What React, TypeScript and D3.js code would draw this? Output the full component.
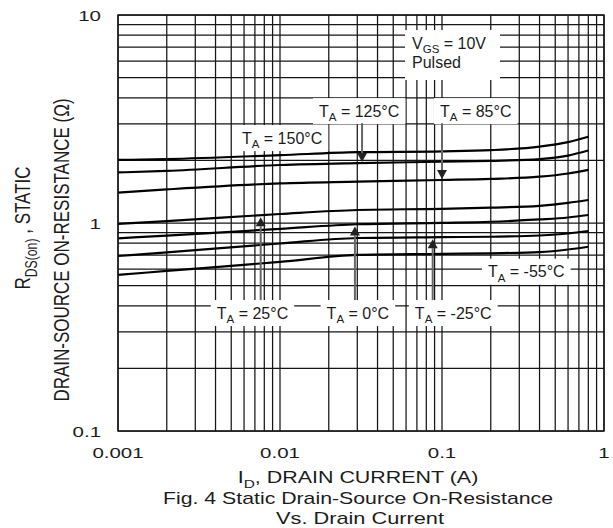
import React, { useEffect, useRef } from 'react';
import * as d3 from 'd3';

// drain current (A), shared by every curve
const currents = [0.001, 0.002, 0.01, 0.03, 0.1, 0.2, 0.4, 0.6, 0.8];

// Rds(on) in ohms, one list per ambient temperature
const r150 = [2.01, 2.03, 2.12, 2.19, 2.21, 2.24, 2.33, 2.45, 2.6];
const r125 = [1.75, 1.78, 1.9, 1.94, 1.97, 1.99, 2.03, 2.11, 2.23];
const r85 = [1.4, 1.45, 1.55, 1.58, 1.61, 1.63, 1.67, 1.73, 1.8];
const r25 = [0.99, 1.02, 1.105, 1.155, 1.17, 1.185, 1.21, 1.25, 1.29];
const r0 = [0.844, 0.87, 0.937, 0.986, 1.002, 1.014, 1.04, 1.063, 1.093];
const rMinus25 = [0.694, 0.723, 0.797, 0.847, 0.855, 0.859, 0.871, 0.89, 0.915];
const rMinus55 = [0.563, 0.588, 0.65, 0.702, 0.71, 0.715, 0.725, 0.746, 0.769];

const temps = ['150', '125', '85', '25', '0', '-25', '-55'];
const series = [r150, r125, r85, r25, r0, rMinus25, rMinus55];

const xTicks = [0.001, 0.01, 0.1, 1];
const xTickLabels = ['0.001', '0.01', '0.1', '1'];
const yTicks = [0.1, 1, 10];
const yTickLabels = ['0.1', '1', '10'];

// T_A labels: left edge (current) and middle (resistance), in data units
const labelCurrent = [0.00582, 0.0174, 0.0972, 0.00407, 0.0194, 0.068, 0.192];
const labelRes = [2.56, 3.45, 3.45, 0.369, 0.369, 0.369, 0.583];
// arrow from the label down/up to its curve at this current (0 = none)
const arrowCurrent = [0, 0.0321, 0.1, 0.0076, 0.029, 0.0876, 0];

const W = 613;
const H = 528;
const M = { left: 118, right: 604, top: 15, bottom: 431 };
const FONT = '"Liberation Sans", Arial, Helvetica, sans-serif';
const INK = '#1c1c1c';

type Part = { t: string; sub?: boolean };

function addText(parent: any, parts: Part[], size: number) {
  const text = parent
    .append('text')
    .attr('font-size', size)
    .attr('font-family', FONT)
    .attr('fill', INK)
    .style('white-space', 'pre');
  let down = false;
  parts.forEach((p) => {
    const ts = text.append('tspan').text(p.t);
    if (p.sub && !down) {
      ts.attr('dy', size * 0.3).attr('font-size', size * 0.72);
      down = true;
    } else if (!p.sub && down) {
      ts.attr('dy', -size * 0.3);
      down = false;
    }
  });
  return text;
}

// the source picture is stretched sideways, so axis text gets a scaleX
function wideText(parent: any, x: number, y: number, sx: number, anchor: string, size: number, parts: Part[]) {
  const g = parent.append('g').attr('transform', `translate(${x},${y}) scale(${sx},1)`);
  return addText(g, parts, size).attr('text-anchor', anchor);
}

// log-log interpolation along one curve
function valueAt(vals: number[], c: number) {
  const lc = currents.map(Math.log10);
  const lv = vals.map(Math.log10);
  const t = Math.log10(c);
  let i = 0;
  while (i < lc.length - 2 && t > lc[i + 1]) i++;
  const f = (t - lc[i]) / (lc[i + 1] - lc[i]);
  return 10 ** (lv[i] + f * (lv[i + 1] - lv[i]));
}

export default function App() {
  const ref = useRef<SVGSVGElement>(null);

  useEffect(() => {
    const svg = d3.select(ref.current);
    svg.selectAll('*').remove();

    const x = d3.scaleLog().domain([0.001, 1]).range([M.left, M.right]);
    const y = d3.scaleLog().domain([0.1, 10]).range([M.bottom, M.top]);

    svg.append('rect').attr('width', W).attr('height', H).attr('fill', '#fff');

    // grid
    const grid = svg.append('g').attr('stroke', '#161616').attr('stroke-width', 1.25);
    const xGrid = d3.range(-3, 0).flatMap((e) => d3.range(2, 10).map((m) => m * 10 ** e));
    const yGrid = d3.range(-1, 1).flatMap((e) => d3.range(2, 10).map((m) => m * 10 ** e));
    grid
      .selectAll('.vx')
      .data([...xTicks, ...xGrid])
      .enter()
      .append('line')
      .attr('x1', (d) => x(d))
      .attr('x2', (d) => x(d))
      .attr('y1', M.top)
      .attr('y2', M.bottom);
    grid
      .selectAll('.hy')
      .data([...yTicks, ...yGrid])
      .enter()
      .append('line')
      .attr('x1', M.left)
      .attr('x2', M.right)
      .attr('y1', (d) => y(d))
      .attr('y2', (d) => y(d));

    // labels with white boxes over the grid
    const notes = svg.append('g');
    const boxes: { x0: number; x1: number; cy: number }[] = [];
    temps.forEach((t, i) => {
      const g = notes.append('g');
      const lx = x(labelCurrent[i]);
      const cy = y(labelRes[i]);
      const txt = addText(g, [{ t: 'T' }, { t: 'A', sub: true }, { t: ` = ${t}°C` }], 16)
        .attr('x', lx)
        .attr('y', cy + 5.5);
      const bb = (txt.node() as SVGTextElement).getBBox();
      g.insert('rect', 'text')
        .attr('x', bb.x - 6)
        .attr('y', cy - 13)
        .attr('width', bb.width + 12)
        .attr('height', 26)
        .attr('fill', '#fff');
      boxes.push({ x0: bb.x - 6, x1: bb.x + bb.width + 6, cy });
    });

    // V_GS note
    const vg = notes.append('g');
    const vx = x(0.0653);
    const vy1 = y(7.33);
    const vy2 = y(5.88);
    vg.append('rect')
      .attr('x', vx - 7)
      .attr('y', vy1 - 13)
      .attr('width', 95)
      .attr('height', vy2 - vy1 + 30)
      .attr('fill', '#fff');
    addText(vg, [{ t: 'V' }, { t: 'GS', sub: true }, { t: ' = 10V' }], 16)
      .attr('x', vx)
      .attr('y', vy1 + 5.5);
    addText(vg, [{ t: 'Pulsed' }], 16).attr('x', vx).attr('y', vy2 + 5.5);

    // curves
    const line = d3
      .line<number>()
      .x((_, i) => x(currents[i]))
      .y((d) => y(d))
      .curve(d3.curveMonotoneX);
    svg
      .append('g')
      .selectAll('path')
      .data(series)
      .enter()
      .append('path')
      .attr('d', (d) => line(d))
      .attr('fill', 'none')
      .attr('stroke', '#000')
      .attr('stroke-width', 2.2);

    // arrows
    const arrows = svg.append('g');
    arrowCurrent.forEach((c, i) => {
      if (!c) return;
      const ax = x(c);
      const cyCurve = y(valueAt(series[i], c));
      const box = boxes[i];
      const goesDown = box.cy < cyCurve;
      const head = 9;
      const tip = goesDown ? cyCurve - 1 : cyCurve + 2;
      const base = goesDown ? tip - head : tip + head;
      const start = goesDown ? box.cy + 12 : box.cy - 13;
      arrows
        .append('line')
        .attr('x1', ax)
        .attr('x2', ax)
        .attr('y1', start)
        .attr('y2', base)
        .attr('stroke', '#666')
        .attr('stroke-width', 2);
      arrows
        .append('path')
        .attr('d', `M${ax},${tip}L${ax - 5},${base}L${ax + 5},${base}Z`)
        .attr('fill', '#222');
    });

    // frame
    svg
      .append('rect')
      .attr('x', M.left)
      .attr('y', M.top)
      .attr('width', M.right - M.left)
      .attr('height', M.bottom - M.top)
      .attr('fill', 'none')
      .attr('stroke', '#161616')
      .attr('stroke-width', 1.4);

    // tick labels
    xTicks.forEach((t, i) => {
      wideText(svg, x(t), M.bottom + 26.5, 1.32, 'middle', 15.5, [{ t: xTickLabels[i] }]);
    });
    yTicks.forEach((t, i) => {
      wideText(svg, M.left - 17, y(t) + 5.5, 1.32, 'end', 15.5, [{ t: yTickLabels[i] }]);
    });

    // axis titles and caption
    const midX = (M.left + M.right) / 2 - 3;
    wideText(svg, midX, 483, 1.34, 'middle', 16, [
      { t: 'I' },
      { t: 'D', sub: true },
      { t: ', DRAIN CURRENT (A)' },
    ]);
    wideText(svg, midX, 504, 1.33, 'middle', 16, [{ t: 'Fig. 4 Static Drain-Source On-Resistance' }]);
    wideText(svg, midX + 2, 524, 1.36, 'middle', 16, [{ t: 'Vs. Drain Current' }]);

    const yt1 = svg.append('g').attr('transform', `translate(30,228) scale(1.3,1) rotate(-90)`);
    addText(yt1, [{ t: 'R' }, { t: 'DS(on)', sub: true }, { t: ' , STATIC' }], 17).attr('text-anchor', 'middle');
    const yt2 = svg.append('g').attr('transform', `translate(69,250) scale(1.3,1) rotate(-90)`);
    addText(yt2, [{ t: 'DRAIN-SOURCE ON-RESISTANCE (Ω)' }], 17).attr('text-anchor', 'middle');
  }, []);

  return (
    <svg
      ref={ref}
      width={W}
      height={H}
      style={{ position: 'absolute', left: 0, top: 0, display: 'block' }}
    />
  );
}
